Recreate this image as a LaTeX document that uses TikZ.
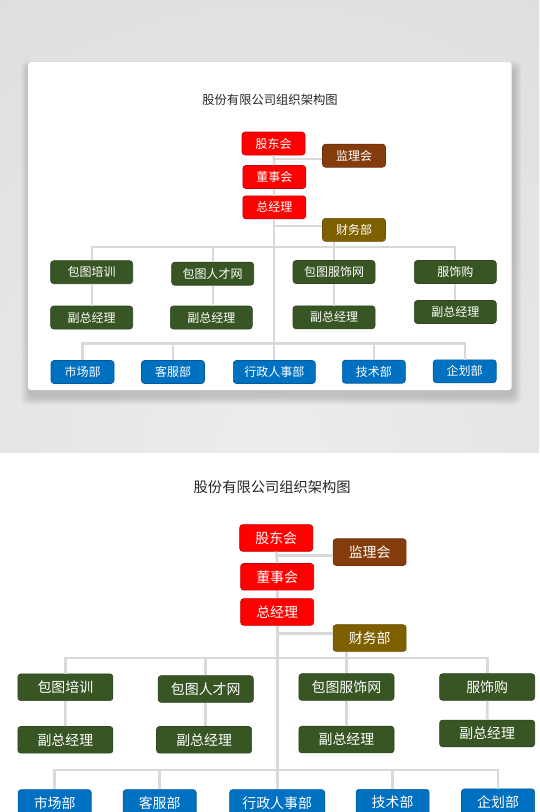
\documentclass[tikz,border=0pt]{standalone}
\usepackage{fontspec}
\setmainfont{Noto Sans CJK SC}
\usetikzlibrary{calc}

\definecolor{boxred}{HTML}{FF0000}
\definecolor{boxbrown}{HTML}{843C0C}
\definecolor{boxolive}{HTML}{7F6000}
\definecolor{boxgreen}{HTML}{375623}
\definecolor{boxblue}{HTML}{0070C0}
\definecolor{linkgray}{HTML}{D9D9D9}
\definecolor{bgdark}{HTML}{D6D6D6}
\definecolor{bglight}{HTML}{EDEDED}

% one copy of the chart, node names get prefix #1
\newcommand\orgchart[1]{%
    \node[title] (#1title) at (270,99.5) {股份有限公司组织架构图};

    \node[box=boxred] (#1gdh) at (273.5,143.5) {股东会};
    \node[box=boxbrown] (#1jsh) at (354,155.7) {监理会};
    \node[box=boxred] (#1dsh) at (274.3,177) {董事会};
    \node[box=boxred] (#1zjl) at (274.3,207.3) {总经理};
    \node[box=boxolive] (#1cwb) at (354,229.8) {财务部};

    \node[wbox=boxgreen] (#1px) at (91.7,272.2) {包图培训};
    \node[wbox=boxgreen] (#1rc) at (212.7,273.7) {包图人才网};
    \node[wbox=boxgreen] (#1fs) at (334,272) {包图服饰网};
    \node[wbox=boxgreen] (#1fg) at (455.3,272) {服饰购};

    \node[wbox=boxgreen] (#1fz1) at (91.7,317.5) {副总经理};
    \node[wbox=boxgreen] (#1fz2) at (211.3,317.5) {副总经理};
    \node[wbox=boxgreen] (#1fz3) at (334,317.3) {副总经理};
    \node[wbox=boxgreen] (#1fz4) at (455.3,312) {副总经理};

    \node[box=boxblue] (#1sc) at (82.5,372) {市场部};
    \node[box=boxblue] (#1kf) at (173,372) {客服部};
    \node[wbox=boxblue] (#1xz) at (274.3,372) {行政人事部};
    \node[box=boxblue] (#1js) at (373.8,371.7) {技术部};
    \node[box=boxblue] (#1qh) at (464.7,371.3) {企划部};

    \coordinate (#1bar1) at (274.3,247);
    \coordinate (#1bar2) at (274.3,343.5);

    \draw[link] (#1gdh.south) -- (#1dsh.north);
    \draw[link] (#1dsh.south) -- (#1zjl.north);
    \draw[link] (#1zjl.south) -- (#1xz.north);
    \draw[link] ([yshift=-3]#1jsh.west) -- ([yshift=-3]#1jsh.west -| #1gdh.south);
    \draw[link] ([yshift=4]#1cwb.west) -- ([yshift=4]#1cwb.west -| #1zjl.south);

    \draw[link] (#1px.north) -- (#1px.north |- #1bar1) -- (#1fg.north |- #1bar1) -- (#1fg.north);
    \draw[link] (#1rc.north) -- (#1rc.north |- #1bar1);
    \draw[link] (#1fs.north) -- (#1fs.north |- #1cwb.south);
    \draw[link] (#1px) -- (#1fz1);
    \draw[link] (#1rc.south) -- (#1rc.south |- #1fz2.north);
    \draw[link] (#1fs) -- (#1fz3);
    \draw[link] (#1fg) -- (#1fz4);

    \draw[link] (#1sc.north) -- (#1sc.north |- #1bar2) -- (#1qh.north |- #1bar2) -- (#1qh.north);
    \draw[link] (#1kf.north) -- (#1kf.north |- #1bar2);
    \draw[link] (#1js.north) -- (#1js.north |- #1bar2);
}

\begin{document}
\begin{tikzpicture}[x=1pt, y=-1pt,
    title/.style = {font=\fontsize{12.3}{14}\selectfont, text=black!85},
    box/.style = {fill=#1, draw=#1!80!black, line width=0.6pt, rounded corners=3pt,
        minimum width=63, minimum height=23, inner sep=1pt,
        text=white, font=\fontsize{12}{14}\selectfont},
    wbox/.style = {box=#1, minimum width=82},
    link/.style = {draw=linkgray, line width=2.3pt}]

    \clip (0,0) rectangle (539,812);
    \fill[white] (0,0) rectangle (539,812);

    % grey panel with the card
    \fill[bgdark] (0,0) rectangle (539,452);
    \begin{scope}
        \clip (0,0) rectangle (539,452);
        \shade[inner color=bglight, outer color=bgdark] (270,450) circle (820pt);
    \end{scope}
    \foreach \i in {1,...,9}
        \fill[black, opacity=0.02, rounded corners=6pt]
            (28+2-\i,62+8-\i) rectangle (511.7+1+\i,390+6+\i);
    \fill[white, rounded corners=3pt] (28,62) rectangle (511.7,390);

    \orgchart{t}

    % larger copy below
    \begin{scope}[shift={(-41,371.5)}, scale=1.16, transform shape,
        link/.append style={line width=2.7pt}]
        \orgchart{b}
    \end{scope}

\end{tikzpicture}
\end{document}
